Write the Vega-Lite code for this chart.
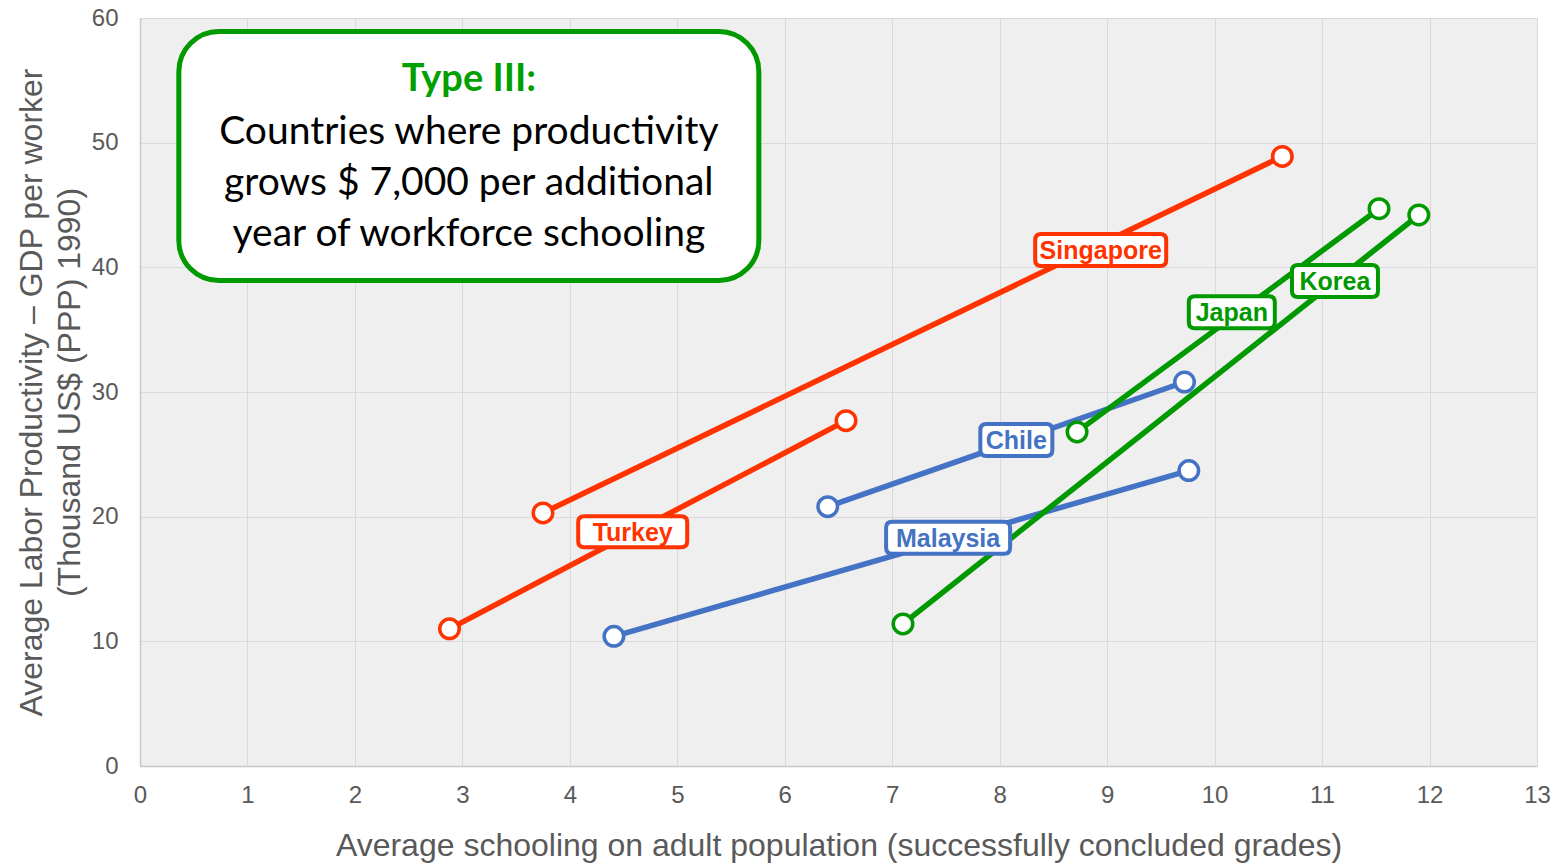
{
  "$schema": "https://vega.github.io/schema/vega-lite/v6.json",
  "width": 1397,
  "height": 748,
  "autosize": {"type": "none"},
  "padding": {"left": 140, "top": 18, "right": 23, "bottom": 99},
  "background": "white",
  "view": {"fill": "#efefef", "stroke": null},
  "config": {
    "axis": {
      "labelFont": "Liberation Sans",
      "labelFontSize": 24,
      "labelColor": "#595959",
      "labelFlush": false,
      "titleFont": "Liberation Sans",
      "titleFontSize": 32,
      "titleFontWeight": "normal",
      "titleColor": "#595959",
      "ticks": false,
      "gridColor": "#d9d9d9",
      "gridWidth": 1,
      "domainColor": "#c8c8c8",
      "domainWidth": 1.5
    }
  },
  "datasets": {
    "series": [
      {"country": "Singapore", "schooling": 3.75, "productivity": 20.3},
      {"country": "Singapore", "schooling": 10.63, "productivity": 48.9},
      {"country": "Turkey", "schooling": 2.88, "productivity": 11.0},
      {"country": "Turkey", "schooling": 6.57, "productivity": 27.7},
      {"country": "Malaysia", "schooling": 4.41, "productivity": 10.4},
      {"country": "Malaysia", "schooling": 9.76, "productivity": 23.7},
      {"country": "Chile", "schooling": 6.4, "productivity": 20.8},
      {"country": "Chile", "schooling": 9.72, "productivity": 30.8},
      {"country": "Japan", "schooling": 8.72, "productivity": 26.8},
      {"country": "Japan", "schooling": 11.53, "productivity": 44.7},
      {"country": "Korea", "schooling": 7.1, "productivity": 11.4},
      {"country": "Korea", "schooling": 11.9, "productivity": 44.2}
    ],
    "labels": [
      {"country": "Singapore", "schooling": 8.94, "productivity": 41.4},
      {"country": "Turkey", "schooling": 4.585, "productivity": 18.8},
      {"country": "Malaysia", "schooling": 7.52, "productivity": 18.3},
      {"country": "Chile", "schooling": 8.155, "productivity": 26.15},
      {"country": "Japan", "schooling": 10.16, "productivity": 36.4},
      {"country": "Korea", "schooling": 11.12, "productivity": 38.9}
    ],
    "note": [
      {"schooling": 3.06, "productivity": 48.93}
    ],
    "noteHead": [
      {"text": "Type III:", "schooling": 3.06, "productivity": 55.0}
    ],
    "noteBody": [
      {"text": "Countries where productivity", "schooling": 3.06, "productivity": 50.85},
      {"text": "grows $ 7,000 per additional", "schooling": 3.06, "productivity": 46.76},
      {"text": "year of workforce schooling", "schooling": 3.06, "productivity": 42.67}
    ]
  },
  "layer": [
    {
      "data": {"name": "series"},
      "mark": {"type": "line", "strokeWidth": 5.5},
      "encoding": {
        "x": {
          "field": "schooling", "type": "quantitative",
          "scale": {"domain": [0, 13], "nice": false},
          "axis": {
            "values": [0,1,2,3,4,5,6,7,8,9,10,11,12,13],
            "format": "d",
            "labelPadding": 17,
            "titlePadding": 23,
            "title": "Average schooling on adult population (successfully concluded grades)"
          }
        },
        "y": {
          "field": "productivity", "type": "quantitative",
          "scale": {"domain": [0, 60], "nice": false},
          "axis": {
            "values": [0,10,20,30,40,50,60],
            "labelPadding": 22,
            "titlePadding": 5,
            "titleLineHeight": 38,
            "title": ["Average Labor Productivity – GDP per worker", "(Thousand US$ (PPP) 1990)"]
          }
        },
        "color": {
          "field": "country", "type": "nominal", "legend": null,
          "scale": {
            "domain": ["Singapore", "Turkey", "Malaysia", "Chile", "Japan", "Korea"],
            "range": ["#ff3300", "#ff3300", "#4472c4", "#4472c4", "#009a00", "#009a00"]
          }
        }
      }
    },
    {
      "data": {"name": "series"},
      "mark": {"type": "point", "filled": false, "fill": "white", "fillOpacity": 1, "size": 380, "strokeWidth": 3.5, "opacity": 1},
      "encoding": {
        "x": {"field": "schooling", "type": "quantitative"},
        "y": {"field": "productivity", "type": "quantitative"},
        "stroke": {
          "field": "country", "type": "nominal", "legend": null,
          "scale": {
            "domain": ["Singapore", "Turkey", "Malaysia", "Chile", "Japan", "Korea"],
            "range": ["#ff3300", "#ff3300", "#4472c4", "#4472c4", "#009a00", "#009a00"]
          }
        }
      }
    },
    {
      "data": {"name": "labels"},
      "mark": {"type": "point", "filled": false, "fill": "white", "fillOpacity": 1, "size": 4, "strokeWidth": 4, "opacity": 1},
      "encoding": {
        "x": {"field": "schooling", "type": "quantitative"},
        "y": {"field": "productivity", "type": "quantitative"},
        "stroke": {
          "field": "country", "type": "nominal", "legend": null,
          "scale": {
            "domain": ["Singapore", "Turkey", "Malaysia", "Chile", "Japan", "Korea"],
            "range": ["#ff3300", "#ff3300", "#4472c4", "#4472c4", "#009a00", "#009a00"]
          }
        },
        "shape": {
          "field": "country", "type": "nominal", "legend": null,
          "scale": {
            "domain": ["Singapore", "Turkey", "Malaysia", "Chile", "Japan", "Korea"],
            "range": [
              "M-59.5,-16H59.5Q65.5,-16,65.5,-10V10Q65.5,16,59.5,16H-59.5Q-65.5,16,-65.5,10V-10Q-65.5,-16,-59.5,-16Z",
              "M-48.5,-15.5H48.5Q54.5,-15.5,54.5,-9.5V9.5Q54.5,15.5,48.5,15.5H-48.5Q-54.5,15.5,-54.5,9.5V-9.5Q-54.5,-15.5,-48.5,-15.5Z",
              "M-56,-16H56Q62,-16,62,-10V10Q62,16,56,16H-56Q-62,16,-62,10V-10Q-62,-16,-56,-16Z",
              "M-30,-16H30Q36,-16,36,-10V10Q36,16,30,16H-30Q-36,16,-36,10V-10Q-36,-16,-30,-16Z",
              "M-37,-16H37Q43,-16,43,-10V10Q43,16,37,16H-37Q-43,16,-43,10V-10Q-43,-16,-37,-16Z",
              "M-37,-16H37Q43,-16,43,-10V10Q43,16,37,16H-37Q-43,16,-43,10V-10Q-43,-16,-37,-16Z"
            ]
          }
        }
      }
    },
    {
      "data": {"name": "labels"},
      "mark": {"type": "text", "font": "Liberation Sans", "fontWeight": "bold", "fontSize": 25, "align": "center", "baseline": "middle", "dy": 1},
      "encoding": {
        "x": {"field": "schooling", "type": "quantitative"},
        "y": {"field": "productivity", "type": "quantitative"},
        "text": {"field": "country"},
        "color": {
          "field": "country", "type": "nominal", "legend": null,
          "scale": {
            "domain": ["Singapore", "Turkey", "Malaysia", "Chile", "Japan", "Korea"],
            "range": ["#ff3300", "#ff3300", "#4472c4", "#4472c4", "#009a00", "#009a00"]
          }
        }
      }
    },
    {
      "data": {"name": "note"},
      "mark": {
        "type": "point", "filled": false, "fill": "white", "fillOpacity": 1, "stroke": "#009a00", "strokeWidth": 5, "size": 4, "opacity": 1,
        "shape": "M-250,-124.5H250A40,40,0,0,1,290,-84.5V84.5A40,40,0,0,1,250,124.5H-250A40,40,0,0,1,-290,84.5V-84.5A40,40,0,0,1,-250,-124.5Z"
      },
      "encoding": {
        "x": {"field": "schooling", "type": "quantitative"},
        "y": {"field": "productivity", "type": "quantitative"}
      }
    },
    {
      "data": {"name": "noteHead"},
      "mark": {"type": "text", "font": "Lato", "fontWeight": "bold", "fontSize": 38, "color": "#00a000", "align": "center", "baseline": "middle"},
      "encoding": {
        "x": {"field": "schooling", "type": "quantitative"},
        "y": {"field": "productivity", "type": "quantitative"},
        "text": {"field": "text"}
      }
    },
    {
      "data": {"name": "noteBody"},
      "mark": {"type": "text", "font": "Lato", "fontSize": 39, "color": "black", "align": "center", "baseline": "middle"},
      "encoding": {
        "x": {"field": "schooling", "type": "quantitative"},
        "y": {"field": "productivity", "type": "quantitative"},
        "text": {"field": "text"}
      }
    }
  ]
}
